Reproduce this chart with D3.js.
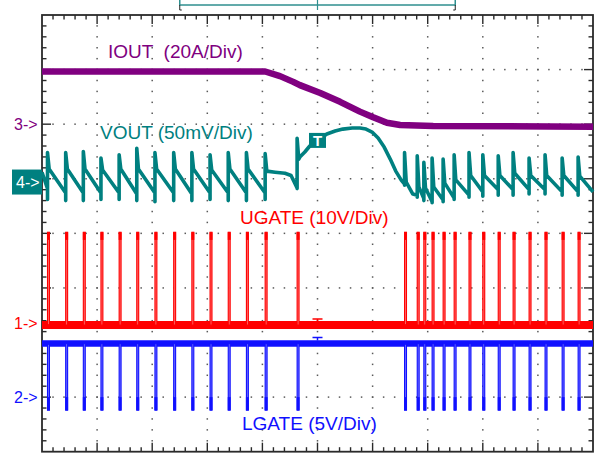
<!DOCTYPE html>
<html>
<head>
<meta charset="utf-8">
<script src="https://cdn.jsdelivr.net/npm/d3@7"></script>
<style>
  html, body { margin: 0; padding: 0; background: #fff; }
  svg { display: block; }
  text { font-family: "Liberation Sans", Arial, sans-serif; }
</style>
</head>
<body>
<svg id="scope" width="599" height="454"></svg>
<script>
// ---------------- data ----------------
// Time is measured in screen divisions (10 across), levels in channel units.
const timeDomain = [0, 10];
const divDomain = [-4, 4];

// Switching events of the converter (time in divisions)
const switchTimes = [0.10, 0.43, 0.75, 1.07, 1.40, 1.72, 2.05, 2.39, 2.72, 3.05, 3.38, 3.71, 4.05, 4.63,
                     6.58, 6.81, 6.93, 7.08, 7.28, 7.48, 7.75, 8.00, 8.28, 8.55, 8.84, 9.13, 9.44, 9.73];
const gateOnTime = 0.035;         // pulse width, divisions

// UGATE (V)
const ugateLow = -0.2;
const ugateHigh = 16.8;
const ugateShoulder = 15.4;

// LGATE (V)
const lgateHigh = 4.9;
const lgateLow = -1.2;
const lgateShoulder = 0.0;

// IOUT (A)
const ioutTimes = [0, 4.05, 4.32, 4.56, 4.68, 5.05, 5.41, 5.77, 6.01, 6.26, 6.50, 7.10, 10];
const ioutAmps  = [19.3, 19.3, 17.6, 15.5, 14.3, 11.4, 8.2, 4.6, 2.5, 0.5, -0.3, -0.7, -0.9];

// VOUT ripple around each switching event (mV, AC deviation)
const voutBefore = [-6, -10, -10, -10, -10, -11, -10, -10, -11, -10, -10, -10, -10, -5.5,
                    -2, -12, -15, -18, -16.5, -14.7, -12, -9, -7, -7, -7, -7, -9, -9];
const voutDip    = [-16, -17, -17, -16, -16, -17, -18, -17, -17, -16, -17, -17, -16, -6,
                    -3, -14, -17, -19, -18, -16, -14, -13, -12, -12, -11, -11, -12, -12];
const voutPeak   = [27, 27, 28, 22, 25, 31, 27, 27, 27, 25, 27, 27, 26, 40,
                    27, 24, 18, 22, 21, 25, 27, 25, 24, 27, 22, 25, 22, 23];
const voutAfter  = [12, 12, 12, 11, 12, 12, 12, 12, 12, 11, 12, 12, 10, 21,
                    0, -4.5, -5.5, -4.5, -1, 2, 6, 6, 6, 8, 6, 6, 6, 5.5];
// VOUT between events (load-release overshoot and recovery)
const voutTimes = [0, 4.23, 4.41, 4.52, 4.68, 4.77, 4.86, 5.01, 5.17, 5.32, 5.46, 5.63, 5.77,
                   5.88, 5.99, 6.10, 6.21, 6.32, 6.42, 6.52, 6.73, 10];
const voutMv    = [9, 9, 8, 6, 22.9, 27.5, 33, 38.5, 44, 46.7, 48.5, 49.5, 49.5,
                   48.5, 45.8, 40.3, 32, 21, 10, 1.8, -11, -9];

// Channel settings
const channelNumbers = [1, 2, 3, 4];
const channelUnitsPerDiv = [10, 5, 20, 50];
const channelLabels = ["UGATE (10V/Div)", "LGATE (5V/Div)", "IOUT  (20A/Div)", "VOUT (50mV/Div)"];
const triggerTime = 5;
const recordView = [2.5, 7.5];

// ---------------- layout & style ----------------
const UG = 0, LG = 1, IO = 2, VO = 3;
const channelOffsets = [-1.66, -3.0, 2.0, 0.94];   // marker positions in divisions
const channelColors = ["#ff0000", "#1010ff", "#800080", "#008080"];
const labelPos = [[240, 223.5], [242, 430], [108, 57.5], [100, 139]];

const svg = d3.select("#scope");
const x = d3.scaleLinear().domain(timeDomain).range([42, 593]);
const yDiv = d3.scaleLinear().domain(divDomain).range([451.7, 15]);
const chY = (ch, v) => yDiv(channelOffsets[ch] + v / channelUnitsPerDiv[ch]);

// graticule dots
const grid = svg.append("g").attr("fill", "#5a5a5a");
const minor = d3.range(1, 50).map(j => j * 0.2);
const minorY = d3.range(1, 40).map(j => -4 + j * 0.2);
d3.range(1, 10).forEach(k => {
  minorY.forEach(v => grid.append("rect")
    .attr("x", x(k) - 0.75).attr("y", yDiv(v) - 0.75).attr("width", 1.5).attr("height", 1.5));
});
d3.range(-3, 4).forEach(k => {
  minor.forEach(t => grid.append("rect")
    .attr("x", x(t) - 0.75).attr("y", yDiv(k) - 0.75).attr("width", 1.5).attr("height", 1.5));
});

// frame and edge ticks
const frame = svg.append("g").attr("stroke", "#2a2a2a").attr("stroke-width", 1.4).attr("fill", "none");
minor.forEach((t, j) => {
  const len = (j + 1) % 5 === 0 ? 9 : 4.5;
  frame.append("line").attr("x1", x(t)).attr("x2", x(t)).attr("y1", yDiv(4)).attr("y2", yDiv(4) + len);
  frame.append("line").attr("x1", x(t)).attr("x2", x(t)).attr("y1", yDiv(-4)).attr("y2", yDiv(-4) - len);
});
minorY.forEach((v, j) => {
  const len = (j + 1) % 5 === 0 ? 9 : 4.5;
  frame.append("line").attr("x1", x(0)).attr("x2", x(0) + len).attr("y1", yDiv(v)).attr("y2", yDiv(v));
  frame.append("line").attr("x1", x(10)).attr("x2", x(10) - len).attr("y1", yDiv(v)).attr("y2", yDiv(v));
});
frame.append("rect").attr("x", x(0)).attr("y", yDiv(4))
  .attr("width", x(10) - x(0)).attr("height", yDiv(-4) - yDiv(4)).attr("stroke-width", 1.8);

// record view bar above the screen
const bar = svg.append("g").attr("fill", "none");
bar.append("rect").attr("x", x(recordView[0])).attr("y", -10)
  .attr("width", x(recordView[1]) - x(recordView[0])).attr("height", 15)
  .attr("stroke", "#2f8f8f").attr("stroke-width", 1.5);
bar.append("line").attr("x1", x(triggerTime)).attr("x2", x(triggerTime)).attr("y1", 0).attr("y2", 10)
  .attr("stroke", "#2f8f8f").attr("stroke-width", 1.2);
bar.append("path").attr("stroke", "#222").attr("stroke-width", 1)
  .attr("d", `M${x(recordView[0]) + 2},10 H${x(recordView[0])} V5`);
bar.append("path").attr("stroke", "#222").attr("stroke-width", 1)
  .attr("d", `M${x(recordView[1]) - 2},10 H${x(recordView[1])} V5`);

// labels
channelLabels.forEach((s, i) => {
  svg.append("text").attr("x", labelPos[i][0]).attr("y", labelPos[i][1])
    .attr("fill", channelColors[i]).attr("font-size", 19).style("white-space", "pre").text(s);
});

// channel ground markers
channelNumbers.forEach((n, i) => {
  const my = chY(i, 0);
  if (n === 4) {
    svg.append("rect").attr("x", 12).attr("y", my - 12.5).attr("width", 30).attr("height", 25)
      .attr("fill", channelColors[i]);
    svg.append("text").attr("x", 16).attr("y", my + 5.5).attr("fill", "#fff")
      .attr("font-size", 16).text(n + "->");
  } else {
    svg.append("text").attr("x", 14).attr("y", my + 5.5).attr("fill", channelColors[i])
      .attr("font-size", 16).text(n + "->");
  }
});

// IOUT trace
const ioutLine = d3.line().x(d => x(d[0])).y(d => chY(IO, d[1]));
svg.append("path").datum(ioutTimes.map((t, i) => [t, ioutAmps[i]]))
  .attr("d", ioutLine).attr("fill", "none").attr("stroke", channelColors[IO])
  .attr("stroke-width", 6.5).attr("stroke-linejoin", "round");

// VOUT trace
const voutPts = [];
switchTimes.forEach((t, i) => {
  voutPts.push([t, voutBefore[i]], [t, voutDip[i]], [t, voutPeak[i]], [t + 0.03, voutAfter[i]]);
});
voutTimes.forEach((t, i) => voutPts.push([t, voutMv[i]]));
voutPts.sort((a, b) => a[0] - b[0]);
const voutLine = d3.line().x(d => x(d[0])).y(d => chY(VO, d[1]));
svg.append("path").datum(voutPts).attr("d", voutLine).attr("fill", "none")
  .attr("stroke", channelColors[VO]).attr("stroke-width", 3.6).attr("stroke-linejoin", "round");

// trigger marker on VOUT
const trigMv = d3.scaleLinear().domain(voutTimes).range(voutMv)(triggerTime);
const ty = chY(VO, trigMv);
svg.append("rect").attr("x", x(triggerTime) - 8.5).attr("y", ty - 7.5).attr("width", 17).attr("height", 15)
  .attr("fill", channelColors[VO]);
svg.append("text").attr("x", x(triggerTime)).attr("y", ty + 6).attr("text-anchor", "middle")
  .attr("fill", "#fff").attr("font-size", 15).attr("font-weight", "bold").text("T");

// UGATE trace
const ug = svg.append("g");
ug.append("line").attr("x1", x(0)).attr("x2", x(10))
  .attr("y1", chY(UG, ugateLow)).attr("y2", chY(UG, ugateLow))
  .attr("stroke", channelColors[UG]).attr("stroke-width", 8);
switchTimes.forEach(t => {
  ug.append("rect").attr("x", x(t)).attr("y", chY(UG, ugateHigh))
    .attr("width", x(t + gateOnTime) - x(t)).attr("height", chY(UG, ugateLow) - chY(UG, ugateHigh))
    .attr("fill", "#ff7070").attr("stroke", channelColors[UG]).attr("stroke-width", 1.1);
  ug.append("rect").attr("x", x(t) - 0.5).attr("y", chY(UG, ugateHigh))
    .attr("width", x(t + gateOnTime) - x(t) + 1).attr("height", chY(UG, ugateShoulder) - chY(UG, ugateHigh))
    .attr("fill", channelColors[UG]);
});
ug.append("path").attr("fill", "none").attr("stroke", channelColors[UG]).attr("stroke-width", 1.5)
  .attr("d", `M${x(triggerTime) - 5},${chY(UG, ugateLow) - 6} h10 M${x(triggerTime)},${chY(UG, ugateLow) - 6} v3`);

// LGATE trace
const lg = svg.append("g");
lg.append("line").attr("x1", x(0)).attr("x2", x(10))
  .attr("y1", chY(LG, lgateHigh)).attr("y2", chY(LG, lgateHigh))
  .attr("stroke", channelColors[LG]).attr("stroke-width", 6.5);
switchTimes.forEach(t => {
  lg.append("rect").attr("x", x(t)).attr("y", chY(LG, lgateHigh))
    .attr("width", x(t + gateOnTime) - x(t)).attr("height", chY(LG, lgateLow) - chY(LG, lgateHigh))
    .attr("fill", "#7070ff").attr("stroke", channelColors[LG]).attr("stroke-width", 1.1);
  lg.append("rect").attr("x", x(t) - 0.5).attr("y", chY(LG, lgateShoulder))
    .attr("width", x(t + gateOnTime) - x(t) + 1).attr("height", chY(LG, lgateLow) - chY(LG, lgateShoulder))
    .attr("fill", channelColors[LG]);
});
lg.append("path").attr("fill", "none").attr("stroke", channelColors[LG]).attr("stroke-width", 1.5)
  .attr("d", `M${x(triggerTime) - 5},${chY(LG, lgateHigh) - 6} h10 M${x(triggerTime)},${chY(LG, lgateHigh) - 6} v3`);
</script>
</body>
</html>
